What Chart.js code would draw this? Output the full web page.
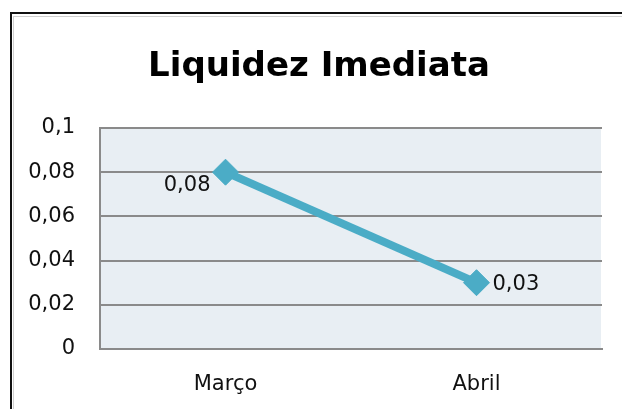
<!DOCTYPE html>
<html>
<head>
<meta charset="utf-8">
<script src="https://cdn.jsdelivr.net/npm/chart.js@4"></script>
<style>
  html, body { margin: 0; padding: 0; background: #fff; }
  #wrap { position: relative; width: 622px; height: 409px; overflow: hidden; }
  #frame { position: absolute; left: 10px; top: 12px; width: 700px; height: 500px;
           border-left: 2px solid #111; border-top: 2px solid #111; }
  #frame2 { position: absolute; left: 13px; top: 16px; width: 700px; height: 500px;
            border-left: 1px solid #d0d0d0; border-top: 1px solid #d0d0d0; }
  canvas { position: absolute; left: 0; top: 0; }
</style>
</head>
<body>
<div id="wrap">
  <div id="frame"></div>
  <div id="frame2"></div>
  <canvas id="c" width="622" height="409"></canvas>
</div>
<script>
const titleText = "Liquidez Imediata";
const categories = ["Março", "Abril"];
const values = [0.08, 0.03];
const dataLabels = ["0,08", "0,03"];
const yTicks = [0, 0.02, 0.04, 0.06, 0.08, 0.1];
const yTickLabels = ["0", "0,02", "0,04", "0,06", "0,08", "0,1"];

const FONT = "'DejaVu Sans', sans-serif";

const plotBg = {
  id: 'plotBg',
  beforeDraw(chart) {
    const a = chart.chartArea, ctx = chart.ctx;
    ctx.save();
    ctx.fillStyle = '#e8eef3';
    ctx.fillRect(a.left, a.top, a.right - a.left - 1, a.bottom - a.top);
    ctx.restore();
  }
};

const titleDraw = {
  id: 'titleDraw',
  afterDraw(chart) {
    const ctx = chart.ctx;
    ctx.save();
    ctx.font = "bold 34px " + FONT;
    ctx.fillStyle = '#000';
    ctx.textAlign = 'center';
    ctx.textBaseline = 'alphabetic';
    ctx.fillText(titleText, 319, 76);
    ctx.restore();
  }
};

const pointLabels = {
  id: 'pointLabels',
  afterDatasetsDraw(chart) {
    const ctx = chart.ctx;
    const meta = chart.getDatasetMeta(0);
    const place = [
      { align: 'right', dx: -15, dy: 13 },
      { align: 'left', dx: 16, dy: 2 }
    ];
    ctx.save();
    ctx.font = "21px " + FONT;
    ctx.fillStyle = '#111';
    ctx.textBaseline = 'middle';
    meta.data.forEach((pt, i) => {
      const p = place[i];
      ctx.textAlign = p.align;
      ctx.fillText(dataLabels[i], pt.x + p.dx, pt.y + p.dy);
    });
    ctx.restore();
  }
};

new Chart(document.getElementById('c'), {
  type: 'line',
  data: {
    labels: categories,
    datasets: [{
      data: values,
      borderColor: '#4bacc6',
      backgroundColor: '#4bacc6',
      borderWidth: 8,
      pointStyle: 'rectRot',
      pointRadius: 13,
      pointBorderWidth: 1,
      pointBackgroundColor: '#4bacc6',
      pointBorderColor: '#4bacc6',
      tension: 0
    }]
  },
  options: {
    responsive: false,
    animation: false,
    devicePixelRatio: 1,
    layout: { padding: { left: 0, right: 20, top: 128, bottom: 0 } },
    plugins: {
      legend: { display: false },
      tooltip: { enabled: false },
      title: { display: false }
    },
    scales: {
      x: {
        offset: true,
        grid: { display: false, drawTicks: false },
        border: { display: true, color: '#8a8a8a', width: 2 },
        ticks: { color: '#111', font: { family: FONT, size: 21 }, padding: 23, maxRotation: 0 },
        afterFit(s) { s.height = 60; }
      },
      y: {
        min: 0, max: 0.1,
        afterBuildTicks(s) { s.ticks = yTicks.map(v => ({ value: v })); },
        grid: { color: '#8a8a8a', lineWidth: 2, drawTicks: false },
        border: { display: true, color: '#8a8a8a', width: 2 },
        ticks: {
          color: '#111',
          font: { family: FONT, size: 21 },
          padding: 25,
          callback(v) { const i = yTicks.indexOf(v); return i >= 0 ? yTickLabels[i] : ''; }
        },
        afterFit(s) { s.width = 100; }
      }
    }
  },
  plugins: [plotBg, pointLabels, titleDraw]
});
</script>
</body>
</html>
